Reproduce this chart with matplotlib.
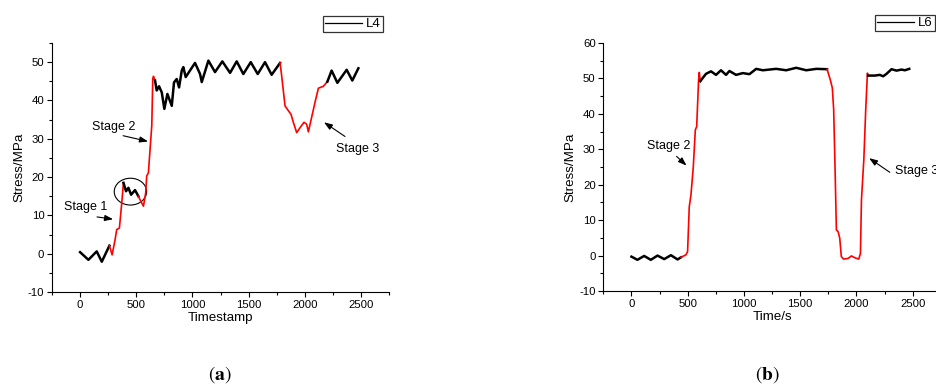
"""
Stress history plots for gauges L4 and L6 (two panels, Origin-like style).
"""

import matplotlib
matplotlib.use("Agg")
import matplotlib.pyplot as plt
from matplotlib.lines import Line2D
from matplotlib.patches import Ellipse
from matplotlib.ticker import MultipleLocator

plt.rcParams["font.family"] = ["Liberation Sans", "DejaVu Sans"]
plt.rcParams["mathtext.fontset"] = "stix"
plt.rcParams["axes.unicode_minus"] = False

BLACK = "#000000"
RED   = "#FF0000"

# ── panel (a): L4 ───────────────────────────────────────────────────────────
A_TIME = [0, 74, 148, 193, 261,
          285, 311, 326, 350, 371, 386,
          409, 430, 454, 489, 519,
          540, 564, 584, 593, 608, 623, 638, 647, 653, 667,
          682, 703, 727, 750, 777, 816, 836, 860, 881, 905, 919, 940, 1023,
          1068, 1083, 1142, 1201, 1266, 1335, 1394, 1453, 1519, 1581, 1646,
          1705, 1780,
          1794, 1824, 1854, 1877, 1898, 1928, 1958, 1993, 2017, 2032, 2061,
          2091, 2121, 2165, 2201,
          2239, 2290, 2373, 2423, 2477]
A_STRESS = [0.4, -1.6, 0.6, -2.1, 2.1,
            -0.3, 3.6, 6.3, 6.7, 13.3, 18.5,
            16.3, 17.2, 15.4, 16.6, 15.0,
            13.7, 12.4, 15.9, 20.3, 21.1, 27.3, 33.4, 45.6, 46.3, 45.2,
            42.6, 43.7, 42.1, 37.8, 41.7, 38.6, 44.7, 45.6, 43.4, 47.8, 48.7, 46.1, 49.8,
            46.9, 44.8, 50.4, 47.4, 50.2, 47.2, 50.2, 46.9, 50.0, 46.9, 50.0,
            46.7, 49.8,
            46.5, 38.6, 37.3, 36.4, 34.3, 31.6, 32.9, 34.3, 33.8, 31.8, 35.6,
            39.5, 43.2, 43.7, 44.9,
            47.8, 44.6, 48.0, 45.2, 48.4]
A_RED_SPANS = [(261, 386), (519, 667), (1780, 2201)]

# ── panel (b): L6 ───────────────────────────────────────────────────────────
B_TIME = [0, 53, 113, 172, 232, 291, 351, 410, 440,
          484, 499, 514, 529, 550, 568, 580, 597, 603, 612,
          633, 663, 707, 752, 796, 841, 871, 930, 990, 1049, 1109, 1168, 1227,
          1287, 1376, 1465, 1554, 1644, 1739,
          1768, 1786, 1798, 1810, 1822, 1837, 1852, 1866, 1887, 1926, 1956,
          1985, 2021, 2036, 2045, 2066, 2083, 2098, 2104,
          2119, 2164, 2208, 2238, 2268, 2312, 2357, 2401, 2431, 2470]
B_STRESS = [-0.3, -1.2, -0.1, -1.2, 0.0, -1.0, 0.1, -1.1, -0.5,
            0.2, 1.1, 13.8, 17.1, 25.1, 35.5, 36.4, 49.6, 51.7, 49.2,
            50.1, 51.3, 52.0, 51.0, 52.3, 51.0, 52.1, 51.0, 51.5, 51.2, 52.7, 52.3, 52.5,
            52.7, 52.3, 53.0, 52.3, 52.7, 52.6,
            49.6, 47.3, 41.2, 25.1, 7.2, 6.8, 4.9, -0.3, -1.0, -0.8, -0.1,
            -0.6, -1.0, 0.6, 15.7, 27.0, 41.2, 51.5, 50.8,
            50.8, 50.8, 51.0, 50.6, 51.3, 52.6, 52.2, 52.5, 52.3, 52.7]
B_RED_SPANS = [(440, 612), (1739, 2104)]


def _in_span(x, spans):
    return any(a <= x <= b for a, b in spans)


def _plot_colored(ax, t, s, spans):
    # split the trace into runs of black / red segments
    runs, cur, cur_red = [], [0], None
    for i in range(len(t) - 1):
        red = _in_span(0.5 * (t[i] + t[i + 1]), spans)
        if cur_red is None or red == cur_red:
            cur.append(i + 1)
        else:
            runs.append((cur_red, cur))
            cur = [i, i + 1]
        cur_red = red
    runs.append((cur_red, cur))
    for red, idx in runs:
        xs = [t[j] for j in idx]
        ys = [s[j] for j in idx]
        if red:
            ax.plot(xs, ys, color=RED, lw=1.2, solid_joinstyle="round", zorder=3)
        else:
            ax.plot(xs, ys, color=BLACK, lw=1.8, solid_joinstyle="round", zorder=3)


def _style(ax, xlabel, ylim, yticks):
    ax.set_xlim(-250, 2750)
    ax.set_ylim(*ylim)
    ax.set_xticks([0, 500, 1000, 1500, 2000, 2500])
    ax.set_yticks(yticks)
    ax.xaxis.set_minor_locator(MultipleLocator(250))
    ax.yaxis.set_minor_locator(MultipleLocator(5))
    ax.spines["top"].set_visible(False)
    ax.spines["right"].set_visible(False)
    for sp in ("left", "bottom"):
        ax.spines[sp].set_linewidth(0.8)
    ax.tick_params(which="major", direction="out", length=3.5, width=0.8,
                   labelsize=8.2, pad=2)
    ax.tick_params(which="minor", direction="out", length=2, width=0.8)
    ax.set_xlabel(xlabel, fontsize=9.6, labelpad=2)
    ax.set_ylabel("Stress/MPa", fontsize=9.6, labelpad=2)


def _stage(ax, text, txy, tail, head, ha="center"):
    ax.text(txy[0], txy[1], text, fontsize=9, ha=ha, va="center")
    ax.annotate("", xy=head, xytext=tail,
                arrowprops=dict(arrowstyle="-|>,head_length=0.5,head_width=0.18",
                                color=BLACK, lw=0.8, shrinkA=0, shrinkB=0))


def _legend(ax, label, anchor):
    handle = Line2D([], [], color=BLACK, lw=0.9)
    ax.legend([handle], [label], loc="upper right", bbox_to_anchor=anchor,
              fontsize=9.5, frameon=True, fancybox=False, edgecolor=BLACK,
              handlelength=2.8, borderpad=0.15, handletextpad=0.3,
              borderaxespad=0).get_frame().set_linewidth(0.9)


def main():
    fig = plt.figure(figsize=(9.37, 3.88), dpi=100)
    ax_a = fig.add_axes([0.0555, 0.2474, 0.3597, 0.6418])
    ax_b = fig.add_axes([0.6439, 0.2500, 0.3601, 0.6392])

    # (a)
    _plot_colored(ax_a, A_TIME, A_STRESS, A_RED_SPANS)
    _style(ax_a, "Timestamp", (-10, 55), [-10, 0, 10, 20, 30, 40, 50])
    _stage(ax_a, "Stage 1", (53, 12.2), (151, 9.6), (294, 9.0))
    _stage(ax_a, "Stage 2", (296, 33.2), (383, 30.8), (605, 29.3))
    _stage(ax_a, "Stage 3", (2466, 27.2), (2358, 30.6), (2171, 34.3))
    ax_a.add_patch(Ellipse((448, 16.2), 288, 7.0, fill=False, ec=BLACK, lw=0.8))
    _legend(ax_a, "L4", (0.982, 1.108))

    # (b)
    _plot_colored(ax_b, B_TIME, B_STRESS, B_RED_SPANS)
    _style(ax_b, "Time/s", (-10, 60), [-10, 0, 10, 20, 30, 40, 50, 60])
    _stage(ax_b, "Stage 2", (327, 30.8), (401, 28.0), (490, 25.4))
    _stage(ax_b, "Stage 3", (2342, 24.0), (2297, 23.5), (2113, 27.5), ha="left")
    _legend(ax_b, "L6", (0.983, 1.113))

    for x, letter in [(220 / 937, "a"), (767 / 937, "b")]:
        fig.text(x, 1 - 375 / 388, rf"$(\mathbf{{{letter}}})$", fontsize=14,
                 ha="center", va="center")

    fig.savefig("out.png", dpi=100)
    plt.close(fig)


if __name__ == "__main__":
    main()
